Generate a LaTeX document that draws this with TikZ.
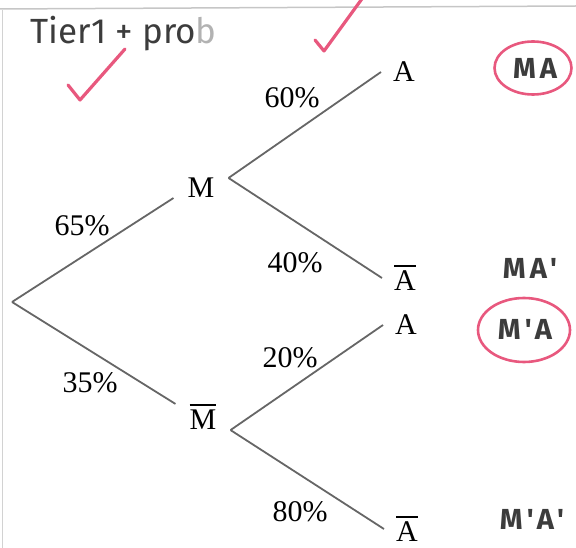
\documentclass[tikz,border=0pt]{standalone}
\usepackage{fontspec}
\setmainfont{Liberation Serif}
\newfontfamily\handfont{Fira Sans}
\newfontfamily\handwide[LetterSpace=14]{Fira Sans}
\usetikzlibrary{shapes.geometric}
\definecolor{inkpink}{HTML}{E8587E}
\definecolor{inkgray}{HTML}{3C3C3C}
\definecolor{branchgray}{HTML}{666666}
\newcommand\overbarred[1]{\vbox{\hrule height 1.6pt \kern 4.5pt \hbox{#1}}}
\tikzset{
  branch/.style={draw=branchgray, line width=1.8pt},
  vertex/.style={inner xsep=14pt, inner ysep=0pt, font=\fontsize{30}{36}\selectfont},
  leaf/.style={anchor=west, inner xsep=12pt, inner ysep=0pt, font=\fontsize{30}{36}\selectfont},
  prob/.style={inner sep=0pt, font=\fontsize{30}{36}\selectfont},
  hand/.style={text=inkgray, inner sep=0pt, font=\handwide\bfseries\fontsize{29}{34}\selectfont},
  tick/.style={draw=inkpink, line width=3.2pt, line cap=round, line join=round},
  ring/.style={ellipse, draw=inkpink, line width=2.6pt}
}
\begin{document}
\begin{tikzpicture}[x=1pt, y=-1pt]
  \useasboundingbox (0,0) rectangle (576,548);
  \draw[gray!45, line width=1.5pt] (0,9) -- (576,6);
  \draw[gray!35, line width=1pt] (2,10) -- (2,548);

  \coordinate (root) at (12,302);
  \node[vertex] (M) at (201,188) {M};
  \node[vertex] (Mb) at (203,417) {\overbarred{M}};
  \node[leaf] (A1) at (381,72) {A};
  \node[leaf] (A2) at (382,278) {\overbarred{A}};
  \node[leaf] (A3) at (383,325) {A};
  \node[leaf] (A4) at (384,529) {\overbarred{A}};

  \draw[branch] (root) -- (M.south west);
  \draw[branch] (root) -- (Mb.north west);
  \draw[branch] (M.north east) -- (A1.west);
  \draw[branch] (M.north east) -- (A2.west);
  \draw[branch] (Mb.south east) -- (A3.west);
  \draw[branch] (Mb.south east) -- (A4.west);

  \node[prob] (p65) at (82,226) {65\%};
  \node[prob] (p35) at (90,383) {35\%};
  \node[prob] (p60) at (292,98) {60\%};
  \node[prob] (p40) at (295,263) {40\%};
  \node[prob] (p20) at (290,358) {20\%};
  \node[prob] (p80) at (300,512) {80\%};

  \node[text=inkgray, anchor=base west, inner sep=0pt, font=\handfont\fontsize{35}{40}\selectfont]
    (title) at (30,44) {Tier1 + pro{\color{gray!60}b}};
  \draw[tick] (68,85) -- (80,100) -- (125,49);
  \draw[tick] (315,40) -- (324,51) -- (364,-4);

  \node[hand] (MA) at (535,68) {MA};
  \node[ring, minimum width=77pt, minimum height=53pt] (ringMA) at (533,68) {};
  \node[hand] (MAp) at (530,268) {MA'};
  \node[hand] (MpA) at (525,329) {M'A};
  \node[ring, minimum width=92pt, minimum height=64pt] (ringMpA) at (524,330) {};
  \node[hand] (MpAp) at (532,519) {M'A'};
\end{tikzpicture}
\end{document}
